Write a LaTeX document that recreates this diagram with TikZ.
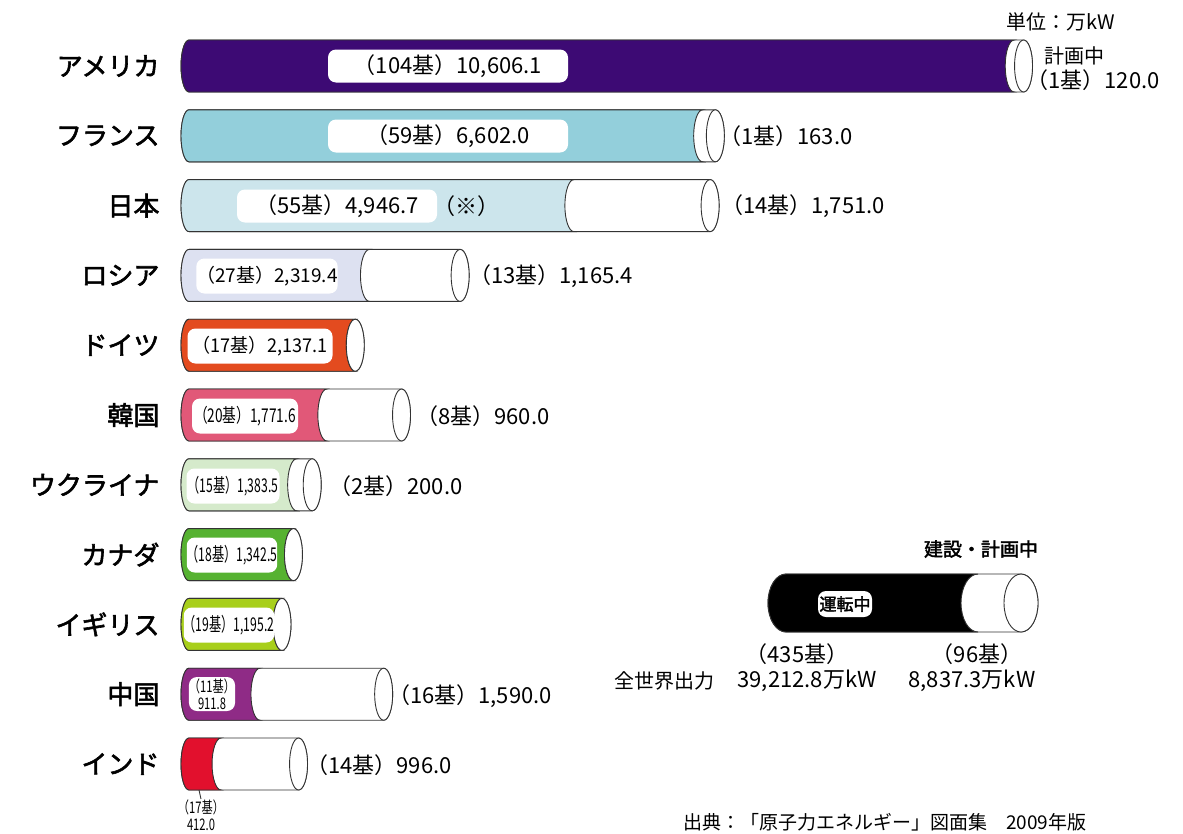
\documentclass[tikz,border=0pt]{standalone}
\usepackage{fontspec}
\setmainfont{Noto Sans CJK JP}
\newfontfamily\jpbold[FakeBold=2.2]{Noto Sans CJK JP}
\usetikzlibrary{positioning}
\definecolor{cUS}{HTML}{3D0A74}
\definecolor{cFR}{HTML}{93CFDB}
\definecolor{cJP}{HTML}{CCE5EC}
\definecolor{cRU}{HTML}{DDE1F1}
\definecolor{cDE}{HTML}{E34B1F}
\definecolor{cKR}{HTML}{E15878}
\definecolor{cUA}{HTML}{D5EACB}
\definecolor{cCA}{HTML}{56B231}
\definecolor{cUK}{HTML}{A8CF1B}
\definecolor{cCN}{HTML}{8F2B86}
\definecolor{cIN}{HTML}{E2102D}

\begin{document}
\begin{tikzpicture}[x=1pt,y=-1pt,
  country/.style={anchor=east,font=\fontsize{26}{26}\selectfont\jpbold},
  valbox/.style={fill=white,rounded corners=8pt,inner sep=0pt,minimum height=33pt},
  big/.style={font=\fontsize{22}{22}\selectfont},
  mid/.style={font=\fontsize{19}{19}\selectfont},
  small/.style={font=\fontsize{16}{17}\selectfont,align=center},
  plan/.style={anchor=west,inner sep=0pt,font=\fontsize{22}{22}\selectfont},
  barline/.style={draw=black!80,line width=0.9pt}]
\useasboundingbox (0,0) rectangle (1183,833);

% one cylinder per country: name/running/running+planned/colour
\foreach \name/\run/\all/\col [count=\i from 0] in {%
  アメリカ/10606.1/10726.1/cUS, フランス/6602.0/6765.0/cFR, 日本/4946.7/6697.7/cJP,
  ロシア/2319.4/3484.8/cRU, ドイツ/2137.1/2137.1/cDE, 韓国/1771.6/2731.6/cKR,
  ウクライナ/1383.5/1583.5/cUA, カナダ/1342.5/1342.5/cCA, イギリス/1195.2/1195.2/cUK,
  中国/911.8/2501.8/cCN, インド/412.0/1408.0/cIN}{
  \pgfmathsetmacro\y{66+69.8*\i}
  \pgfmathsetmacro\xb{189+0.0778*\run}
  \pgfmathsetmacro\xe{189+0.0778*\all}
  \node[country] (n\i) at (163,\y) {\name};
  \filldraw[barline,fill=white] (189,\y-26) arc[start angle=90,end angle=270,x radius=8pt,y radius=26pt]
    -- (\xe,\y+26) arc[start angle=-90,end angle=90,x radius=9pt,y radius=26pt] -- cycle;
  \filldraw[barline,fill=\col] (189,\y-26) arc[start angle=90,end angle=270,x radius=8pt,y radius=26pt]
    -- (\xb,\y+26) arc[start angle=270,end angle=90,x radius=9pt,y radius=26pt] -- cycle;
  \filldraw[barline,fill=white] (\xe,\y) ellipse[x radius=9pt,y radius=26pt];
  \coordinate (b\i) at (199,\y+26);
}

% running
\node[valbox,big,minimum width=240pt] (vUS) at (448,66) {（104基）10,606.1};
\node[valbox,big,minimum width=240pt] (vFR) at (448,136) {（59基）6,602.0};
\node[valbox,big,minimum width=200pt] (vJP) at (337,206) {（55基）4,946.7};
\node[big,right=-7pt of vJP] (note) {（※）};
\node[valbox,mid,minimum width=141pt,minimum height=35pt] (vRU) at (267,276) {（27基）2,319.4};
\node[valbox,mid,minimum width=145pt,minimum height=35pt] (vDE) at (260,346) {\scalebox{0.95}[1]{（17基）2,137.1}};
\node[valbox,mid,minimum width=106pt,minimum height=35pt] (vKR) at (245,416) {\scalebox{0.72}[1]{（20基）1,771.6}};
\node[valbox,mid,minimum width=93pt,minimum height=35pt] (vUA) at (233,486) {\scalebox{0.64}[1]{（15基）1,383.5}};
\node[valbox,mid,minimum width=89pt,minimum height=35pt] (vCA) at (232,555) {\scalebox{0.64}[1]{（18基）1,342.5}};
\node[valbox,mid,minimum width=87pt,minimum height=35pt] (vUK) at (229,625) {\scalebox{0.64}[1]{（19基）1,195.2}};
\node[valbox,small,minimum width=45pt,minimum height=34pt] (vCN) at (212,694) {\scalebox{0.7}[1]{（11基）}\\\scalebox{0.7}[1]{911.8}};
\node[small,anchor=north,inner sep=1pt] (vIN) at (201,799) {\scalebox{0.7}[1]{（17基）}\\\scalebox{0.7}[1]{412.0}};
\draw[black!80,line width=0.9pt] (b10) -- (vIN.north);

% planned
\node[plan,anchor=center,font=\fontsize{20}{20}\selectfont] (uUS) at (1061,22) {単位：万kW};
\node[plan,anchor=center,font=\fontsize{20}{20}\selectfont] (pUShead) at (1074,56) {計画中};
\node[plan,anchor=center] (pUS) at (1093,80) {（1基）120.0};
\node[plan] (pFR) at (719,136) {（1基）163.0};
\node[plan] (pJP) at (721,206) {（14基）1,751.0};
\node[plan] (pRU) at (469,276) {（13基）1,165.4};
\node[plan] (pKR) at (416,416) {（8基）960.0};
\node[plan] (pUA) at (329,486) {（2基）200.0};
\node[plan] (pCN) at (388,696) {（16基）1,590.0};
\node[plan] (pIN) at (306,765) {（14基）996.0};

% legend
\filldraw[barline,fill=white] (786,574) arc[start angle=90,end angle=270,x radius=18pt,y radius=29pt]
  -- (1021,632) arc[start angle=-90,end angle=90,x radius=17pt,y radius=29pt] -- cycle;
\filldraw[barline,fill=black] (786,574) arc[start angle=90,end angle=270,x radius=18pt,y radius=29pt]
  -- (978,632) arc[start angle=270,end angle=90,x radius=17pt,y radius=29pt] -- cycle;
\filldraw[barline,fill=white] (1021,603) ellipse[x radius=17pt,y radius=29pt];
\node[valbox,minimum width=54pt,minimum height=26pt,font=\fontsize{17}{17}\selectfont\jpbold] (lRun) at (845,604) {運転中};
\node[plan,anchor=center,font=\fontsize{19}{19}\selectfont\jpbold] (lPlan) at (981,549) {建設・計画中};
\node[plan,anchor=center] (lRunN) at (797,654) {（435基）};
\node[plan,anchor=center] (lPlanN) at (977,654) {（96基）};
\node[plan,anchor=center,font=\fontsize{20}{20}\selectfont] (lWorld) at (664,681) {全世界出力};
\node[plan,anchor=center] (lRunV) at (807,681) {39,212.8万kW};
\node[plan,anchor=center] (lPlanV) at (972,681) {8,837.3万kW};

\node[plan,font=\fontsize{19}{19}\selectfont] (src) at (683,822) {出典：「原子力エネルギー」図面集　2009年版};
\end{tikzpicture}
\end{document}
